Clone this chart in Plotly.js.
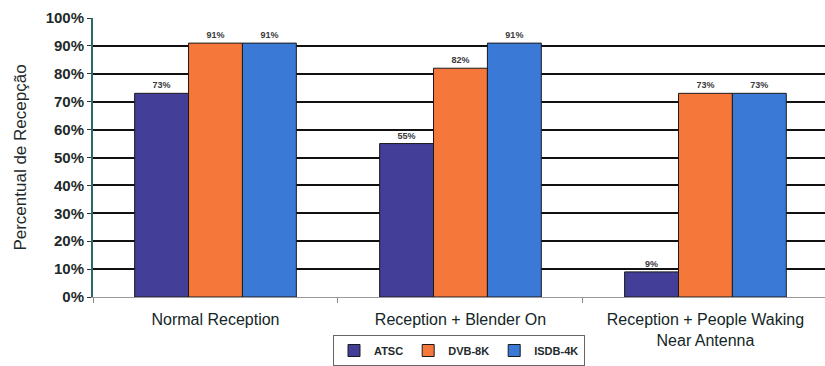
<!DOCTYPE html>
<html>
<head>
<meta charset="utf-8">
<script src="https://cdn.plot.ly/plotly-3.0.1.min.js"></script>
<style>
  html, body { margin: 0; padding: 0; background: #fff; overflow: hidden; }
  #chart { width: 825px; height: 366px; }
</style>
</head>
<body>
<div id="chart"></div>
<script>
// Reception scenarios on the x axis
const categories = [
  "Normal Reception",
  "Reception + Blender On",
  "Reception + People Waking<br>Near Antenna"
];

// Reception rate (%) for each broadcast standard
const atsc = [73, 55, 9];
const dvb8k = [91, 82, 73];
const isdb4k = [91, 91, 73];

const yTicks = [0, 10, 20, 30, 40, 50, 60, 70, 80, 90, 100];
const yTickLabels = ["0%", "10%", "20%", "30%", "40%", "50%", "60%", "70%", "80%", "90%", "100%"];

const seriesNames = ["ATSC", "DVB-8K", "ISDB-4K"];
const seriesColors = ["#433e97", "#f6773a", "#3b79d6"];
const seriesValues = [atsc, dvb8k, isdb4k];

const FONT = "Liberation Sans, Arial, sans-serif";

const traces = seriesValues.map((vals, i) => ({
  type: "bar",
  name: seriesNames[i],
  x: categories,
  y: vals,
  marker: { color: seriesColors[i], line: { color: "#1a1a1a", width: 1 } },
  text: vals.map(v => v + "%"),
  texttemplate: "%{text}",
  textposition: "outside",
  constraintext: "none",
  cliponaxis: false,
  textfont: { family: FONT, size: 9, color: "#3a3a3a", weight: "bold" },
  hoverinfo: "skip"
}));

const layout = {
  width: 825,
  height: 366,
  margin: { l: 93, r: 0, t: 18, b: 69, autoexpand: false },
  paper_bgcolor: "#ffffff",
  plot_bgcolor: "#ffffff",
  barmode: "group",
  bargap: 0.34,
  bargroupgap: 0,
  showlegend: true,
  legend: {
    orientation: "h",
    xref: "paper",
    x: 0.5, xanchor: "center",
    yref: "container",
    y: 0.0, yanchor: "bottom",
    bordercolor: "#666",
    borderwidth: 1,
    font: { family: FONT, size: 11, color: "#1e2a2a", weight: "bold" },
    itemwidth: 30,
    tracegroupgap: 0
  },
  xaxis: {
    type: "category",
    range: [-0.5, 2.488],
    showgrid: false,
    showline: true,
    linecolor: "#999",
    linewidth: 1,
    ticks: "outside",
    tickson: "boundaries",
    ticklen: 5,
    tickcolor: "#888",
    ticklabelstandoff: 8,
    tickfont: { family: FONT, size: 16, color: "#142626" },
    zeroline: false,
    fixedrange: true
  },
  yaxis: {
    range: [0, 100],
    tickvals: yTicks,
    ticktext: yTickLabels,
    showgrid: true,
    gridcolor: "#111",
    gridwidth: 2,
    showline: true,
    linecolor: "#2b6a6a",
    linewidth: 2,
    ticks: "outside",
    ticklen: 4,
    tickcolor: "#333",
    tickfont: { family: FONT, size: 15, color: "#1e2a2a", weight: "bold" },
    title: {
      text: "Percentual de Recepção",
      font: { family: FONT, size: 17, color: "#1e2a2a" },
      standoff: 15
    },
    zeroline: false,
    fixedrange: true
  }
};

Plotly.newPlot("chart", traces, layout, { displayModeBar: false, staticPlot: true });
</script>
</body>
</html>
